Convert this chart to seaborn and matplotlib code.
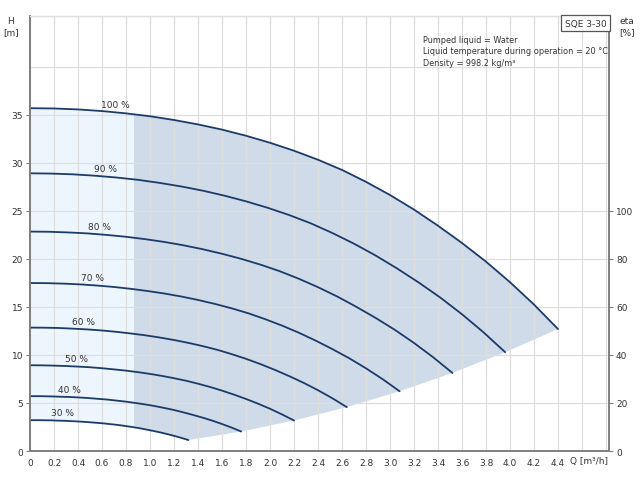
import numpy as np
import pandas as pd
import seaborn as sns
from matplotlib import pyplot as plt
from matplotlib.patches import Polygon
from matplotlib.ticker import FixedLocator

sns.set_style("white")
plt.rcParams['font.family'] = ['DejaVu Sans']

LINE = "#1d3b69"
DARK_FILL = "#cfdbe8"
LIGHT_FILL = "#edf5fd"
GRID = "#dedede"
SPINE = "#7f7f7f"
TEXT = "#333333"

# pump curves (Q in m3/h, H in m)
speeds = ["100 %", "90 %", "80 %", "70 %", "60 %", "50 %", "40 %", "30 %"]

q_100 = [0, 0.2, 0.4, 0.6, 0.8, 1.0, 1.2, 1.4, 1.6, 1.8, 2.0, 2.2,
         2.4, 2.6, 2.8, 3.0, 3.2, 3.4, 3.6, 3.8, 4.0, 4.2, 4.4]
h_100 = [35.70, 35.67, 35.57, 35.40, 35.16, 34.86, 34.47, 34.01, 33.47, 32.83, 32.10, 31.27,
         30.33, 29.27, 28.03, 26.66, 25.14, 23.46, 21.66, 19.72, 17.58, 15.25, 12.70]
q_90 = [0, 0.18, 0.36, 0.54, 0.72, 0.9, 1.08, 1.26, 1.44, 1.62, 1.8, 1.98,
        2.16, 2.34, 2.52, 2.7, 2.88, 3.06, 3.24, 3.42, 3.6, 3.78, 3.96]
h_90 = [28.92, 28.89, 28.81, 28.67, 28.48, 28.24, 27.92, 27.55, 27.11, 26.59, 26.00, 25.33,
        24.57, 23.71, 22.70, 21.59, 20.36, 19.00, 17.54, 15.97, 14.24, 12.35, 10.29]
q_80 = [0, 0.16, 0.32, 0.48, 0.64, 0.8, 0.96, 1.12, 1.28, 1.44, 1.6, 1.76,
        1.92, 2.08, 2.24, 2.4, 2.56, 2.72, 2.88, 3.04, 3.2, 3.36, 3.52]
h_80 = [22.85, 22.83, 22.76, 22.66, 22.50, 22.31, 22.06, 21.77, 21.42, 21.01, 20.54, 20.01,
        19.41, 18.73, 17.94, 17.06, 16.09, 15.01, 13.86, 12.62, 11.25, 9.76, 8.13]
q_70 = [0, 0.14, 0.28, 0.42, 0.56, 0.7, 0.84, 0.98, 1.12, 1.26, 1.4, 1.54,
        1.68, 1.82, 1.96, 2.1, 2.24, 2.38, 2.52, 2.66, 2.8, 2.94, 3.08]
h_70 = [17.49, 17.48, 17.43, 17.35, 17.23, 17.08, 16.89, 16.66, 16.40, 16.09, 15.73, 15.32,
        14.86, 14.34, 13.73, 13.06, 12.32, 11.50, 10.61, 9.66, 8.61, 7.47, 6.22]
q_60 = [0, 0.12, 0.24, 0.36, 0.48, 0.6, 0.72, 0.84, 0.96, 1.08, 1.2, 1.32,
        1.44, 1.56, 1.68, 1.8, 1.92, 2.04, 2.16, 2.28, 2.4, 2.52, 2.64]
h_60 = [12.85, 12.84, 12.81, 12.74, 12.66, 12.55, 12.41, 12.24, 12.05, 11.82, 11.56, 11.26,
        10.92, 10.54, 10.09, 9.60, 9.05, 8.45, 7.80, 7.10, 6.33, 5.49, 4.57]
q_50 = [0, 0.1, 0.2, 0.3, 0.4, 0.5, 0.6, 0.7, 0.8, 0.9, 1.0, 1.1,
        1.2, 1.3, 1.4, 1.5, 1.6, 1.7, 1.8, 1.9, 2.0, 2.1, 2.2]
h_50 = [8.93, 8.92, 8.89, 8.85, 8.79, 8.72, 8.62, 8.50, 8.37, 8.21, 8.03, 7.82,
        7.58, 7.32, 7.01, 6.67, 6.29, 5.87, 5.42, 4.93, 4.40, 3.81, 3.18]
q_40 = [0, 0.08, 0.16, 0.24, 0.32, 0.4, 0.48, 0.56, 0.64, 0.72, 0.8, 0.88,
        0.96, 1.04, 1.12, 1.2, 1.28, 1.36, 1.44, 1.52, 1.6, 1.68, 1.76]
h_40 = [5.71, 5.71, 5.69, 5.66, 5.63, 5.58, 5.52, 5.44, 5.36, 5.25, 5.14, 5.00,
        4.85, 4.68, 4.48, 4.27, 4.02, 3.75, 3.47, 3.16, 2.81, 2.44, 2.03]
q_30 = [0, 0.06, 0.12, 0.18, 0.24, 0.3, 0.36, 0.42, 0.48, 0.54, 0.6, 0.66,
        0.72, 0.78, 0.84, 0.9, 0.96, 1.02, 1.08, 1.14, 1.2, 1.26, 1.32]
h_30 = [3.21, 3.21, 3.20, 3.19, 3.16, 3.14, 3.10, 3.06, 3.01, 2.95, 2.89, 2.81,
        2.73, 2.63, 2.52, 2.40, 2.26, 2.11, 1.95, 1.77, 1.58, 1.37, 1.14]

# flow where the light (low flow) zone ends
q_min_zone = 0.87

x_ticks = [round(0.2 * i, 1) for i in range(25)]
y_ticks = [0, 5, 10, 15, 20, 25, 30, 35]
eta_ticks = [0, 20, 40, 60, 80, 100]

curves = {
    "100 %": (q_100, h_100), "90 %": (q_90, h_90), "80 %": (q_80, h_80),
    "70 %": (q_70, h_70), "60 %": (q_60, h_60), "50 %": (q_50, h_50),
    "40 %": (q_40, h_40), "30 %": (q_30, h_30),
}
df = pd.concat(
    [pd.DataFrame({"Q": q, "H": h, "speed": name}) for name, (q, h) in curves.items()],
    ignore_index=True,
)

# label anchor flows along each curve (layout only)
label_q = {"100 %": 0.71, "90 %": 0.63, "80 %": 0.58, "70 %": 0.52,
           "60 %": 0.45, "50 %": 0.39, "40 %": 0.33, "30 %": 0.27}

fig = plt.figure(figsize=(6.4, 4.81), dpi=100)
ax = fig.add_axes([30 / 640, 1 - 452 / 481, 579 / 640, 435 / 481])

# operating envelope: 100 % curve, end points, back along 30 % curve
verts = list(zip(q_100, h_100))
verts += [(curves[s][0][-1], curves[s][1][-1]) for s in speeds[1:]]
verts += list(zip(q_30[::-1], h_30[::-1]))[1:]
envelope = Polygon(verts, closed=True, fc=DARK_FILL, ec="none", zorder=0.2)
ax.add_patch(envelope)
light = ax.axvspan(0, q_min_zone, fc=LIGHT_FILL, ec="none", zorder=0.3)
light.set_clip_path(envelope)

sns.lineplot(
    data=df, x="Q", y="H", hue="speed", hue_order=speeds,
    palette={s: LINE for s in speeds}, sort=False, estimator=None,
    legend=False, linewidth=1.3, ax=ax, zorder=3,
)

for s in speeds:
    q, h = curves[s]
    lq = label_q[s]
    ax.annotate(s, (lq, np.interp(lq, q, h)), xytext=(0, 2.5),
                textcoords="offset points", ha="center", va="bottom",
                fontsize=6.5, color=TEXT)

ax.set_xlim(0, 4.825)
ax.set_ylim(0, 45.3)
ax.set_xticks(x_ticks)
ax.set_xticklabels(["0" if t == 0 else f"{t:.1f}" if t <= 4.4 else "" for t in x_ticks])
ax.set_yticks(y_ticks)
ax.yaxis.set_minor_locator(FixedLocator([40]))
ax.set_axisbelow(True)
ax.grid(True, which="both", color=GRID, linewidth=0.9)
ax.tick_params(which="major", direction="out", length=3, width=0.8, color=SPINE,
               labelsize=6.5, labelcolor=TEXT, pad=2)
ax.tick_params(which="minor", length=0)
ax.set_xlabel("")
ax.set_ylabel("")

ax2 = ax.twinx()
ax2.set_ylim(0, 45.3 * 4)
ax2.set_yticks(eta_ticks)
ax2.tick_params(direction="out", length=3, width=0.8, color=SPINE,
                labelsize=6.5, labelcolor=TEXT, pad=2)
ax2.grid(False)

for a in (ax, ax2):
    for side in ("left", "bottom", "right"):
        a.spines[side].set_color(SPINE)
        a.spines[side].set_linewidth(1.2)
    a.spines["top"].set_color(GRID)
    a.spines["top"].set_linewidth(0.9)

ax.text(4.66, -0.55, "Q [m³/h]", ha="center", va="top", fontsize=6.5, color=TEXT)

fig.text(10 / 640, 1 - 22 / 481, "H", ha="center", va="center", fontsize=6.5, color=TEXT)
fig.text(11 / 640, 1 - 33 / 481, "[m]", ha="center", va="center", fontsize=6.5, color=TEXT)
fig.text(627 / 640, 1 - 22 / 481, "eta", ha="center", va="center", fontsize=6.5, color=TEXT)
fig.text(627 / 640, 1 - 33 / 481, "[%]", ha="center", va="center", fontsize=6.5, color=TEXT)

fig.text(585.5 / 640, 1 - 24 / 481, "SQE 3-30", ha="center", va="center",
         fontsize=6.5, color=TEXT,
         bbox=dict(boxstyle="square,pad=0.35", fc="white", ec="#555555", lw=0.9))

info = ["Pumped liquid = Water",
        "Liquid temperature during operation = 20 °C",
        "Density = 998.2 kg/m³"]
for i, line in enumerate(info):
    fig.text(423 / 640, 1 - (41 + 11 * i) / 481, line, ha="left", va="center",
             fontsize=5.85, color=TEXT)

fig.savefig("out.png", dpi=100)
